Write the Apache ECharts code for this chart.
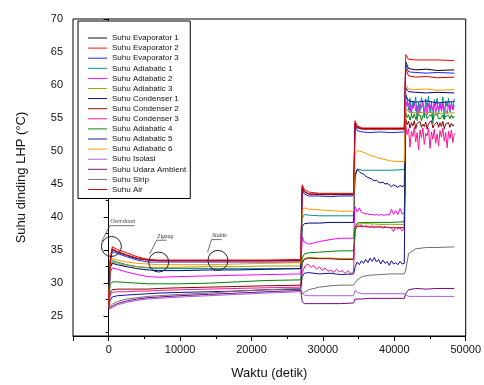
<!DOCTYPE html>
<html>
<head>
<meta charset="utf-8">
<script src="https://cdn.jsdelivr.net/npm/echarts@6/dist/echarts.min.js"></script>
<style>
  html, body { margin: 0; padding: 0; background: #fff; }
  #chart { width: 484px; height: 385px; }
</style>
</head>
<body>
<div id="chart"></div>
<script>
// waktu (detik) untuk titik-titik utama
const tMain = [0, 200, 500, 1200, 2500, 4000, 5500, 7000, 10000, 14000, 18000, 22000, 26900,
  27100, 27400, 28000, 29500, 31000, 32500, 34300,
  34500, 34800, 35500, 36500, 38000, 39500, 41400,
  41600, 42000, 43000, 44500, 46000, 48400]
// waktu untuk bagian yang bergerigi
const tD2 = [27100, 27500, 27900, 28300, 28700, 29100, 29500, 29900, 30300, 30700, 31100, 31500, 31900, 32300, 32700, 33100, 33500, 33900, 34300]
const tD3 = [34500, 34800, 35100, 35400, 35700, 36000, 36300, 36600, 36900, 37200, 37500, 37800, 38100, 38400, 38700, 39000, 39300, 39600, 39900, 40200, 40500, 40800, 41100, 41400]
const tD4 = [41600, 41800, 42000, 42200, 42400, 42600, 42800, 43000, 43200, 43400, 43600, 43800, 44000, 44200, 44400, 44600, 44800, 45000, 45200, 45400, 45600, 45800, 46000, 46200, 46400, 46600, 46800, 47000, 47200, 47400, 47600, 47800, 48000, 48200, 48400]

const evap1 = [26.5, 33.2, 35.1, 34.7, 34.2, 33.7, 33.5, 33.4, 33.4, 33.4, 33.4, 33.4, 33.4,
  44.6, 43.9, 43.5, 43.4, 43.4, 43.4, 43.4,
  54.3, 53.6, 53.4, 53.4, 53.4, 53.4, 53.4,
  63.5, 62.5, 62.3, 62.4, 62.2, 62.3]
const evap2 = [26.5, 33.6, 35.5, 35.1, 34.6, 34.0, 33.6, 33.5, 33.5, 33.5, 33.5, 33.5, 33.6,
  44.9, 44.2, 43.8, 43.6, 43.6, 43.6, 43.6,
  54.6, 53.8, 53.5, 53.5, 53.5, 53.5, 53.5,
  64.6, 63.9, 63.8, 63.8, 63.8, 63.7]
const evap3 = [26.4, 33.0, 34.8, 34.5, 34.0, 33.5, 33.2, 33.2, 33.2, 33.2, 33.2, 33.2, 33.2,
  44.2, 43.5, 43.2, 43.2, 43.1, 43.2, 43.2,
  53.8, 53.1, 52.9, 52.8, 52.9, 52.8, 52.9,
  63.0, 62.0, 61.9, 61.8, 61.9, 61.8]
const adiab1 = [26.4, 32.6, 33.4, 33.2, 32.8, 32.5, 32.3, 32.2, 32.2, 32.2, 32.2, 32.2, 32.2,
  39.8, 40.4, 40.3, 40.2, 40.2, 40.2, 40.2,
  46.0, 47.3, 47.1, 47.1, 47.1, 47.1, 47.2,
  58.6, 57.8, 57.0, 57.2, 57.0, 57.2]
const adiab1N4 = [58.6, 57.8, 56.2, 58.0, 55.4, 57.6, 56.8, 58.2, 54.6, 57.4, 56.0, 58.1, 57.2, 55.0, 57.9, 56.5, 58.3, 55.8, 57.5, 54.2, 57.8, 56.9, 58.0, 55.6, 57.3, 56.4, 58.2, 54.8, 57.6, 56.7, 58.0, 55.9, 57.4, 56.3, 57.9]
const adiab2 = [26.4, 31.6, 32.3, 32.1, 31.7, 31.3, 31.0, 30.9, 31.0, 31.1, 31.2, 31.3, 31.4,
  37.0, 36.2, 35.9, 36.3, 36.6, 36.8, 36.8,
  41.6, 40.8, 40.6, 40.5, 40.4, 40.4, 40.6,
  57.5, 56.8, 56.6, 56.6, 56.6, 56.6]
const adiab2N3 = [41.6, 40.8, 41.4, 40.7, 40.6, 40.5, 40.5, 40.4, 40.4, 40.3, 40.4, 40.3, 40.4, 40.3, 40.3, 40.4, 40.3, 41.2, 40.4, 41.0, 40.4, 41.3, 40.5, 40.6]
const adiab2N4 = [57.5, 56.8, 57.2, 55.9, 57.0, 56.4, 57.3, 56.1, 56.9, 55.6, 57.1, 56.5, 57.4, 56.0, 56.8, 55.5, 57.2, 56.6, 57.0, 56.2, 57.3, 55.8, 56.9, 56.4, 57.1, 56.0, 57.2, 56.5, 56.8, 55.7, 57.0, 56.3, 57.1, 56.2, 56.9]
const adiab3 = [26.4, 32.4, 33.2, 33.0, 32.7, 32.5, 32.4, 32.4, 32.4, 32.5, 32.5, 32.6, 32.6,
  33.2, 33.7, 33.9, 33.8, 33.8, 33.7, 33.7,
  38.4, 38.9, 39.0, 39.0, 38.9, 38.9, 38.9,
  56.5, 55.9, 55.8, 55.9, 55.7, 55.8]
const cond1 = [26.4, 32.3, 33.0, 32.8, 32.5, 32.2, 32.0, 31.9, 31.9, 32.0, 32.0, 32.1, 32.2,
  38.6, 39.0, 39.1, 39.1, 39.2, 39.2, 39.2,
  46.4, 47.2, 46.6, 46.0, 45.3, 44.8, 44.8,
  59.6, 59.0, 58.9, 58.8, 58.9, 58.8]
const cond1N3 = [46.4, 47.2, 46.9, 46.6, 46.5, 46.2, 46.0, 45.9, 45.7, 45.5, 45.6, 45.3, 45.2, 45.3, 45.0, 45.1, 44.9, 44.6, 44.9, 44.7, 44.5, 44.8, 44.6, 44.8]
const cond2 = [26.4, 28.5, 29.0, 29.1, 29.1, 29.1, 29.1, 29.2, 29.3, 29.4, 29.5, 29.6, 29.7,
  33.0, 33.6, 33.8, 33.7, 33.7, 33.6, 33.6,
  38.0, 38.6, 38.6, 38.5, 38.5, 38.4, 38.4,
  54.8, 54.0, 54.0, 54.0, 54.0, 54.0]
const cond2N4 = [54.8, 54.0, 54.5, 53.5, 54.3, 53.8, 54.6, 53.4, 54.2, 53.9, 54.5, 53.6, 54.1, 53.7, 54.4, 53.3, 54.2, 53.9, 54.6, 53.5, 54.0, 53.8, 54.4, 53.6, 54.3, 53.7, 54.5, 53.4, 54.1, 53.9, 54.3, 53.6, 54.2, 53.8, 54.0]
const cond3 = [26.4, 28.2, 28.6, 28.7, 28.7, 28.8, 28.8, 28.9, 29.0, 29.1, 29.2, 29.3, 29.4,
  31.6, 32.6, 32.4, 32.2, 31.9, 31.8, 31.8,
  38.0, 38.7, 38.6, 38.5, 38.5, 38.3, 38.4,
  53.8, 52.8, 52.8, 52.6, 52.6, 52.7]
const cond3N2 = [31.6, 32.6, 32.9, 32.4, 32.7, 32.1, 32.5, 31.9, 32.3, 31.8, 32.0, 31.6, 32.1, 31.7, 31.9, 31.5, 31.9, 31.4, 31.8]
const cond3N3 = [38.0, 38.7, 38.6, 38.8, 38.5, 38.7, 38.6, 38.5, 38.7, 38.4, 38.6, 38.5, 38.6, 38.3, 38.6, 38.4, 38.5, 38.3, 37.8, 38.5, 38.2, 38.4, 37.9, 38.4]
const cond3N4 = [53.8, 52.5, 53.4, 50.6, 53.0, 52.2, 53.6, 51.4, 52.8, 50.2, 53.2, 52.0, 53.5, 51.0, 52.7, 52.3, 53.4, 50.4, 52.9, 51.8, 53.3, 51.2, 52.6, 50.8, 53.1, 52.1, 53.5, 51.5, 52.8, 50.5, 53.0, 51.9, 53.2, 51.3, 52.7]
const adiab4 = [26.4, 29.8, 30.2, 30.2, 30.1, 30.0, 29.9, 29.9, 29.9, 30.0, 30.2, 30.4, 30.5,
  33.8, 34.4, 34.6, 34.7, 34.8, 34.9, 34.9,
  38.6, 39.1, 39.2, 39.2, 39.2, 39.2, 39.3,
  55.8, 55.2, 55.2, 55.2, 55.2, 55.3]
const adiab4N4 = [55.8, 55.1, 55.5, 54.7, 55.4, 55.0, 55.6, 54.8, 55.3, 55.1, 55.5, 54.6, 55.4, 55.2, 55.6, 54.9, 55.3, 55.0, 55.5, 54.7, 55.4, 55.1, 55.6, 54.9, 55.2, 55.0, 55.5, 54.8, 55.3, 55.1, 55.4, 54.9, 55.5, 55.0, 55.3]
const adiab5 = [26.3, 27.4, 27.9, 28.1, 28.2, 28.3, 28.4, 28.5, 28.6, 28.7, 28.8, 29.0, 29.1,
  31.0, 31.5, 31.6, 31.4, 31.5, 31.3, 31.4,
  32.4, 33.2, 33.2, 33.6, 33.0, 32.9, 33.0,
  58.4, 57.6, 57.4, 57.6, 57.3, 57.5]
const adiab5N3 = [32.4, 33.2, 32.8, 33.4, 33.0, 33.6, 33.1, 33.8, 33.3, 33.9, 33.2, 33.6, 32.9, 33.5, 33.0, 33.3, 32.7, 33.4, 32.9, 33.1, 32.8, 33.3, 32.9, 33.0]
const adiab6 = [26.4, 33.0, 33.7, 33.5, 33.2, 33.0, 32.9, 32.8, 32.8, 32.8, 32.9, 33.0, 33.1,
  41.0, 41.4, 41.2, 41.1, 41.0, 40.9, 40.9,
  49.5, 50.1, 49.9, 49.4, 48.9, 48.5, 48.4,
  60.0, 59.4, 59.3, 59.4, 59.2, 59.3]
const isolasi = [26.0, 26.1, 26.3, 26.7, 27.1, 27.4, 27.6, 27.7, 27.9, 28.1, 28.3, 28.5, 28.7,
  28.4, 28.2, 28.1, 28.1, 28.1, 28.1, 28.1,
  28.9, 28.6, 28.4, 28.4, 28.4, 28.4, 28.4,
  28.3, 28.0, 28.0, 28.0, 28.0, 28.0]
const ambient = [26.2, 26.3, 26.5, 26.9, 27.3, 27.6, 27.8, 27.9, 28.1, 28.3, 28.5, 28.7, 28.9,
  27.2, 26.9, 26.9, 26.9, 26.9, 26.9, 27.0,
  27.6, 27.6, 27.6, 27.7, 27.7, 27.7, 27.7,
  28.4, 29.0, 29.2, 29.1, 29.2, 29.2]
const sirip = [26.3, 26.5, 26.8, 27.2, 27.6, 27.8, 28.0, 28.1, 28.3, 28.5, 28.8, 29.0, 29.2,
  28.4, 28.6, 29.0, 29.4, 29.6, 29.7, 29.7,
  30.0, 30.5, 31.0, 31.2, 31.3, 31.4, 31.4,
  32.0, 34.5, 35.2, 35.4, 35.4, 35.5]
const air = [26.5, 33.3, 35.2, 34.8, 34.3, 33.8, 33.5, 33.4, 33.4, 33.4, 33.4, 33.4, 33.5,
  44.5, 43.8, 43.5, 43.5, 43.5, 43.5, 43.5,
  54.0, 53.5, 53.3, 53.3, 53.3, 53.3, 53.3,
  62.4, 61.4, 61.2, 61.3, 61.1, 61.2]

// gabungkan titik utama dengan bagian bergerigi
const build = (main, dense = []) => {
  let pts = tMain.map((t, i) => [t, main[i]])
  dense.forEach(([ts, vs]) => {
    const lo = ts[0], hi = ts[ts.length - 1]
    pts = pts.filter((p) => p[0] < lo || p[0] > hi).concat(ts.map((t, i) => [t, vs[i]]))
  })
  return pts.sort((a, b) => a[0] - b[0])
}

const seriesDefs = [
  { name: 'Suhu Evaporator 1', color: '#000000', data: build(evap1) },
  { name: 'Suhu Evaporator 2', color: '#ff0000', data: build(evap2) },
  { name: 'Suhu Evaporator 3', color: '#2020ff', data: build(evap3) },
  { name: 'Suhu Adiabatic 1', color: '#008b8b', data: build(adiab1, [[tD4, adiab1N4]]) },
  { name: 'Suhu Adiabatic 2', color: '#ff00ff', data: build(adiab2, [[tD3, adiab2N3], [tD4, adiab2N4]]) },
  { name: 'Suhu Adiabatic 3', color: '#a0a000', data: build(adiab3) },
  { name: 'Suhu Condenser 1', color: '#000080', data: build(cond1, [[tD3, cond1N3]]) },
  { name: 'Suhu Condenser 2', color: '#8b0000', data: build(cond2, [[tD4, cond2N4]]) },
  { name: 'Suhu Condenser 3', color: '#ff1493', data: build(cond3, [[tD2, cond3N2], [tD3, cond3N3], [tD4, cond3N4]]) },
  { name: 'Suhu Adiabatic 4', color: '#008000', data: build(adiab4, [[tD4, adiab4N4]]) },
  { name: 'Suhu Adiabatic 5', color: '#1010a0', data: build(adiab5, [[tD3, adiab5N3]]) },
  { name: 'Suhu Adiabatic 6', color: '#ff9900', data: build(adiab6) },
  { name: 'Suhu Isolasi', color: '#a060e0', data: build(isolasi) },
  { name: 'Suhu Udara Ambient', color: '#800080', data: build(ambient) },
  { name: 'Suhu Sirip', color: '#707070', data: build(sirip) },
  { name: 'Suhu Air', color: '#d00000', data: build(air) },
]

const font = 'Liberation Sans, Arial, sans-serif'
const chart = echarts.init(document.getElementById('chart'))

chart.setOption({
  animation: false,
  backgroundColor: '#fff',
  grid: { left: 73, right: 18, top: 19, bottom: 45, show: true, borderColor: '#000', borderWidth: 1 },
  xAxis: {
    type: 'value',
    min: -5000,
    max: 50000,
    splitNumber: 5,
    name: 'Waktu (detik)',
    nameLocation: 'middle',
    nameGap: 31,
    nameTextStyle: { fontFamily: font, fontSize: 13, color: '#111' },
    axisLine: { lineStyle: { color: '#000', width: 1 } },
    axisTick: { inside: false, length: 5, lineStyle: { color: '#000' } },
    minorTick: { show: true, splitNumber: 2, length: 3, lineStyle: { color: '#000' } },
    splitLine: { show: false },
    axisLabel: {
      fontFamily: font, fontSize: 11, color: '#111', margin: 8, showMinLabel: false,
      formatter: (v) => String(v),
    },
  },
  yAxis: {
    type: 'value',
    min: 22,
    max: 70,
    splitNumber: 10,
    name: 'Suhu dinding LHP (°C)',
    nameLocation: 'middle',
    nameGap: 45,
    nameTextStyle: { fontFamily: font, fontSize: 13, color: '#111' },
    axisLine: { lineStyle: { color: '#000', width: 1 } },
    axisTick: { inside: false, length: 5, lineStyle: { color: '#000' } },
    minorTick: { show: true, splitNumber: 2, length: 3, lineStyle: { color: '#000' } },
    splitLine: { show: false },
    axisLabel: {
      fontFamily: font, fontSize: 11, color: '#111', margin: 10, showMinLabel: false,
      formatter: (v) => String(v),
    },
  },
  legend: {
    orient: 'vertical',
    left: 78,
    top: 21,
    padding: [12, 4, 4, 10],
    itemGap: 0.1,
    itemWidth: 19,
    itemHeight: 1,
    icon: 'path://M0,0H20V1H0Z',
    selectedMode: false,
    borderColor: '#000',
    borderWidth: 1,
    backgroundColor: '#fff',
    textStyle: { fontFamily: font, fontSize: 8, lineHeight: 10, color: '#111' },
    data: seriesDefs.map((s) => s.name),
  },
  series: seriesDefs.map((s) => ({
    name: s.name,
    type: 'line',
    symbol: 'none',
    data: s.data,
    color: s.color,
    lineStyle: { color: s.color, width: 1 },
  })),
})

// anotasi: lingkaran + label bergaris bawah
const circles = [[380, 35.55], [7000, 33.2], [15300, 33.45]]
const notes = [
  { text: 'Overshoot', at: [140, 38.7], end: [3640, 38.7], lead: [-980, 36.3] },
  { text: 'Zigzag', at: [6700, 36.5], end: [8100, 36.5], lead: [5740, 34.4] },
  { text: 'Stable', at: [14400, 36.6], end: [15800, 36.6], lead: [13850, 34.7] },
]
const px = (p) => chart.convertToPixel({ gridIndex: 0 }, p)
const graphic = []
circles.forEach((c) => {
  const [cx, cy] = px(c)
  graphic.push({ type: 'circle', shape: { cx, cy, r: 10 }, style: { fill: 'none', stroke: '#222', lineWidth: 1 }, z: 100 })
})
notes.forEach((n) => {
  const a = px(n.at), e = px(n.end), l = px(n.lead)
  graphic.push({ type: 'polyline', shape: { points: [l, a, e] }, style: { fill: 'none', stroke: '#333', lineWidth: 0.7 }, z: 100 })
  graphic.push({
    type: 'text', x: a[0] + 0.5, y: a[1] - 1,
    style: { text: n.text, fontFamily: 'Liberation Serif, serif', fontStyle: 'italic', fontSize: 6, fill: '#333', verticalAlign: 'bottom' },
    z: 100,
  })
})
chart.setOption({ graphic })
</script>
</body>
</html>
